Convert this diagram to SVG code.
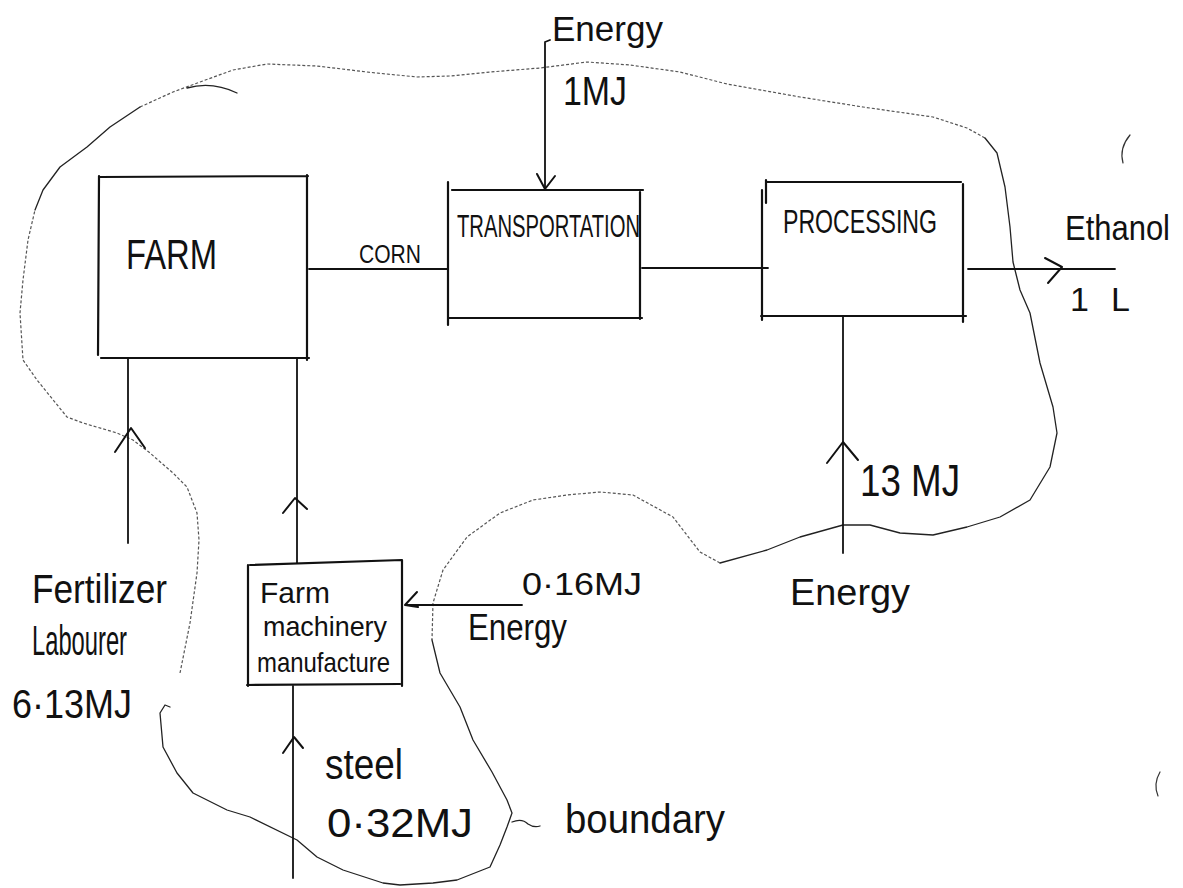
<svg xmlns="http://www.w3.org/2000/svg" width="1183" height="888" viewBox="0 0 1183 888">
<style>
.box{fill:none;stroke:#111;stroke-width:2.2;stroke-linecap:round}
.ln{fill:none;stroke:#111;stroke-width:1.8;stroke-linecap:round}
.ah{fill:none;stroke:#111;stroke-width:2;stroke-linecap:round;stroke-linejoin:round}
.bd{fill:none;stroke:#222;stroke-width:1.3;stroke-linejoin:round;stroke-linecap:round}
.bdd{fill:none;stroke:#555;stroke-width:1.2;stroke-dasharray:3 2;stroke-linejoin:round}
.mk{fill:none;stroke:#333;stroke-width:1.2;stroke-linecap:round}
text{font-family:"Liberation Sans",Arial,sans-serif;fill:#111}
</style>
<rect width="1183" height="888" fill="#fff"/>

<g id="boundary">
  <polyline class="bdd" points="140,107 173,92 200,82 233,70 267,64 317,66 367,72 417,77 450,76 490,72 540,68 587,62 630,65 680,72 727,84 800,97 863,107 933,117 967,128 985,138"/>
  <polyline class="bd" points="985,138 997,153 1005,187 1010,227 1013,262 1020,290 1030,313 1040,363 1053,407 1057,433 1050,467 1030,500 1000,517 967,527 933,535 900,533 870,525 843,525 800,537 767,550 720,563"/>
  <polyline class="bdd" points="720,563 700,552 693,543 673,517 633,495 600,492 567,495 533,500 500,513 467,537 443,570 433,603 432,640"/>
  <polyline class="bd" points="432,640 440,673 460,707 473,740 492,772 507,800 512,813 507,827 500,845 490,867 457,880 433,883 400,885 383,883 343,870 317,857 297,840 250,817 227,810 193,793 177,773 163,747 160,713 165,705 170,707"/>
  <polyline class="bdd" points="180,673 190,623 197,573 199,540 197,513 187,487 173,473 150,453 133,440 117,433 83,423 67,417 37,380 23,360 20,313 23,280 28,240 35,210"/>
  <polyline class="bd" points="35,210 43,190 60,167 87,147 110,127 140,107"/>
  <path class="bd" d="M187,88 Q212,81 237,93"/>
  <path class="bd" d="M512,822 Q522,818 528,824 Q534,828 540,826"/>
  <text x="565" y="833" font-size="40" textLength="160" lengthAdjust="spacingAndGlyphs">boundary</text>
</g>

<g id="farm">
  <path class="box" d="M100,177 L308,176 M99,176 L98,355 M101,358 L309,358 M307,175 L307,360"/>
  <text x="126" y="269" font-size="42" textLength="91" lengthAdjust="spacingAndGlyphs">FARM</text>
</g>

<g id="transportation">
  <path class="box" d="M452,190 L643,190 M448,182 L448,325 M640,192 L640,319 M448,318 L642,318"/>
  <text x="457" y="237" font-size="32" textLength="183" lengthAdjust="spacingAndGlyphs">TRANSPORTATION</text>
</g>

<g id="processing">
  <path class="box" d="M766,182 L961,182 M766,180 L766,203 M762,190 L762,320 M963,184 L963,322 M761,316 L966,316"/>
  <text x="783" y="233" font-size="34" textLength="154" lengthAdjust="spacingAndGlyphs">PROCESSING</text>
</g>

<g id="machinery">
  <path class="box" d="M250,565 L402,560 M248,565 L248,686 M402,560 L402,686 M247,685 L400,684"/>
  <text x="260" y="603" font-size="30" textLength="70" lengthAdjust="spacingAndGlyphs">Farm</text>
  <text x="263" y="636" font-size="28" textLength="124" lengthAdjust="spacingAndGlyphs">machinery</text>
  <text x="257" y="672" font-size="28" textLength="133" lengthAdjust="spacingAndGlyphs">manufacture</text>
</g>

<g id="connectors">
  <path class="ln" d="M309,269 L448,269"/>
  <path class="ln" d="M642,268 L768,268"/>
  <path class="ln" d="M968,269 L1115,269"/>
  <path class="ah" d="M1045,258 L1062,267 L1048,283"/>
  <path class="ln" d="M550,40 L545,42 L545,189"/>
  <path class="ah" d="M537,174 L545,189 L555,176"/>
  <path class="ln" d="M843,316 L843,553"/>
  <path class="ah" d="M827,463 L843,442 L858,460"/>
  <path class="ln" d="M128,358 L128,543"/>
  <path class="ah" d="M115,452 L131,428 L145,448"/>
  <path class="ln" d="M297,358 L297,563"/>
  <path class="ah" d="M283,513 L295,498 L307,509"/>
  <path class="ln" d="M293,686 L293,878"/>
  <path class="ah" d="M283,753 L294,737 L303,748"/>
  <path class="ln" d="M522,605 L406,605"/>
  <path class="ah" d="M417,592 L405,605 L418,607"/>
</g>

<g id="labels">
  <text x="359" y="263" font-size="26" textLength="62" lengthAdjust="spacingAndGlyphs">CORN</text>
  <text x="552" y="41" font-size="35" textLength="111" lengthAdjust="spacingAndGlyphs">Energy</text>
  <text x="563" y="105" font-size="40" textLength="64" lengthAdjust="spacingAndGlyphs">1MJ</text>
  <text x="1065" y="240" font-size="35" textLength="105" lengthAdjust="spacingAndGlyphs">Ethanol</text>
  <text x="1070" y="311" font-size="34" textLength="60" lengthAdjust="spacing">1L</text>
  <text x="860" y="496" font-size="44" textLength="100" lengthAdjust="spacingAndGlyphs">13 MJ</text>
  <text x="790" y="605" font-size="37" textLength="120" lengthAdjust="spacingAndGlyphs">Energy</text>
  <text x="522" y="595" font-size="32" textLength="120" lengthAdjust="spacingAndGlyphs">0·16MJ</text>
  <text x="468" y="640" font-size="36" textLength="99" lengthAdjust="spacingAndGlyphs">Energy</text>
  <text x="32" y="603" font-size="40" textLength="135" lengthAdjust="spacingAndGlyphs">Fertilizer</text>
  <text x="32" y="655" font-size="42" textLength="95" lengthAdjust="spacingAndGlyphs">Labourer</text>
  <text x="12" y="718" font-size="40" textLength="120" lengthAdjust="spacingAndGlyphs">6·13MJ</text>
  <text x="325" y="779" font-size="42" textLength="78" lengthAdjust="spacingAndGlyphs">steel</text>
  <text x="327" y="837" font-size="40" textLength="146" lengthAdjust="spacingAndGlyphs">0·32MJ</text>
</g>

<g id="marks">
  <path class="mk" d="M1130,135 Q1119,148 1123,163"/>
  <path class="mk" d="M1160,772 Q1153,784 1158,796"/>
</g>
</svg>
